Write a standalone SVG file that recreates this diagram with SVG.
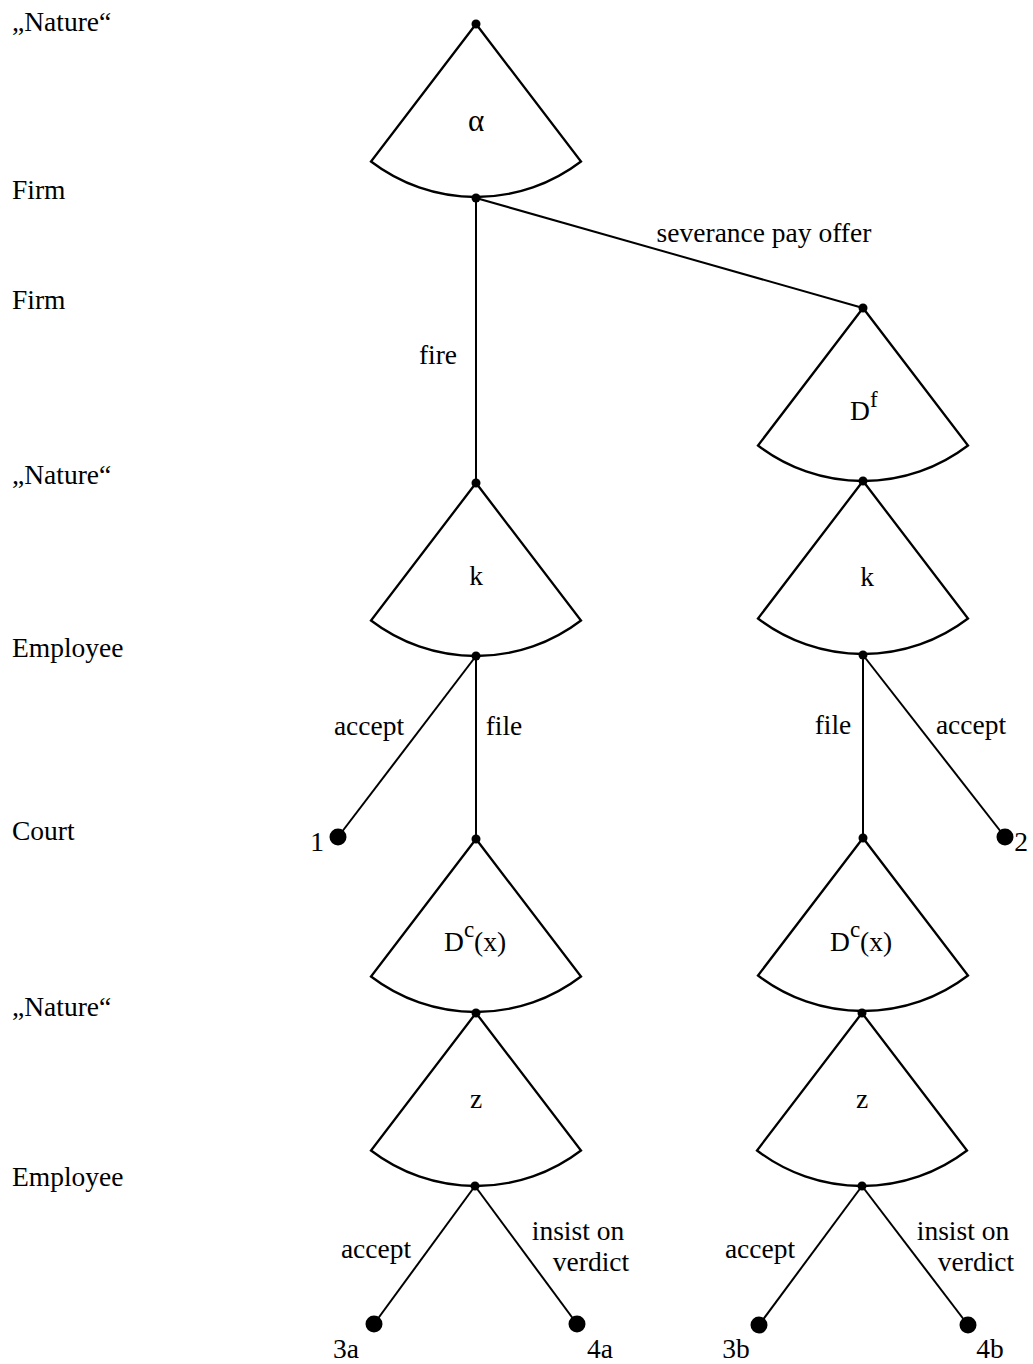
<svg xmlns="http://www.w3.org/2000/svg" width="1033" height="1364" viewBox="0 0 1033 1364">
<style>
text{font-family:"Liberation Serif","Times New Roman",serif;font-size:27.5px;fill:#000}
.fan{fill:#fff;stroke:#000;stroke-width:2.3;stroke-linejoin:miter}
.edge{stroke:#000;stroke-width:2;fill:none}
.dot{fill:#000}
.mid{text-anchor:middle}
.sup{font-size:23px}
.alpha{font-size:31px}
</style>
<defs>
<path id="fanShape" d="M0,0 L-105,137.5 A173,173 0 0 0 105,137.5 Z"/>
</defs>
<g id="player-labels">
<text x="12" y="31">„Nature“</text>
<text x="12" y="199">Firm</text>
<text x="12" y="309">Firm</text>
<text x="12" y="484">„Nature“</text>
<text x="12" y="657">Employee</text>
<text x="12" y="840">Court</text>
<text x="12" y="1016">„Nature“</text>
<text x="12" y="1186">Employee</text>
</g>
<g id="connectors">
<line class="edge" x1="476" y1="198" x2="476" y2="483"/>
<line class="edge" x1="476" y1="198" x2="863" y2="308"/>
<line class="edge" x1="476" y1="656" x2="338" y2="837"/>
<line class="edge" x1="476" y1="656" x2="476" y2="839"/>
<line class="edge" x1="863" y1="655" x2="863" y2="838"/>
<line class="edge" x1="863" y1="655" x2="1005" y2="837"/>
<line class="edge" stroke-width="2.4" x1="475" y1="1186" x2="374" y2="1324"/>
<line class="edge" stroke-width="2.4" x1="475" y1="1186" x2="577" y2="1324"/>
<line class="edge" stroke-width="2.4" x1="862" y1="1186" x2="759" y2="1325"/>
<line class="edge" stroke-width="2.4" x1="862" y1="1186" x2="968" y2="1325"/>
<text x="764" y="242" class="mid">severance pay offer</text>
<text x="438" y="364" class="mid">fire</text>
<text x="369" y="735" class="mid">accept</text>
<text x="504" y="735" class="mid">file</text>
<text x="833" y="734" class="mid">file</text>
<text x="971" y="734" class="mid">accept</text>
<text x="376" y="1258" class="mid">accept</text>
<text x="578" y="1240" class="mid">insist on</text>
<text x="591" y="1271" class="mid">verdict</text>
<text x="760" y="1258" class="mid">accept</text>
<text x="963" y="1240" class="mid">insist on</text>
<text x="976" y="1271" class="mid">verdict</text>
</g>
<g id="node-alpha">
<use href="#fanShape" class="fan" x="476" y="24"/>
<circle class="dot" cx="476" cy="24" r="4.5"/>
<circle class="dot" cx="476" cy="198" r="4.5"/>
<text x="476" y="131" class="mid alpha">α</text>
</g>
<g id="node-Df">
<use href="#fanShape" class="fan" x="863" y="308"/>
<circle class="dot" cx="863" cy="308" r="4.5"/>
<text x="850" y="420">D<tspan class="sup" dy="-13">f</tspan></text>
</g>
<g id="node-k-left">
<use href="#fanShape" class="fan" x="476" y="483"/>
<circle class="dot" cx="476" cy="483" r="4.5"/>
<circle class="dot" cx="476" cy="656" r="4.5"/>
<text x="476" y="585" class="mid">k</text>
</g>
<g id="node-k-right">
<use href="#fanShape" class="fan" x="863" y="481"/>
<circle class="dot" cx="863" cy="481" r="4.5"/>
<circle class="dot" cx="863" cy="655" r="4.5"/>
<text x="867" y="586" class="mid">k</text>
</g>
<g id="leaf-1">
<circle class="dot" cx="338" cy="837" r="8.5"/>
<text x="317" y="851" class="mid">1</text>
</g>
<g id="leaf-2">
<circle class="dot" cx="1005" cy="837" r="8.5"/>
<text x="1021" y="851" class="mid">2</text>
</g>
<g id="node-Dc-left">
<use href="#fanShape" class="fan" x="476" y="839"/>
<circle class="dot" cx="476" cy="839" r="4.5"/>
<text x="444" y="951">D<tspan class="sup" dy="-14">c</tspan><tspan dy="14">(x)</tspan></text>
</g>
<g id="node-Dc-right">
<use href="#fanShape" class="fan" x="863" y="838"/>
<circle class="dot" cx="863" cy="838" r="4.5"/>
<text x="830" y="951">D<tspan class="sup" dy="-14">c</tspan><tspan dy="14">(x)</tspan></text>
</g>
<g id="node-z-left">
<use href="#fanShape" class="fan" x="476" y="1013"/>
<circle class="dot" cx="476" cy="1013" r="4.5"/>
<circle class="dot" cx="475" cy="1186" r="4.5"/>
<text x="476" y="1108" class="mid">z</text>
</g>
<g id="node-z-right">
<use href="#fanShape" class="fan" x="862" y="1013"/>
<circle class="dot" cx="862" cy="1013" r="4.5"/>
<circle class="dot" cx="862" cy="1186" r="4.5"/>
<text x="862" y="1108" class="mid">z</text>
</g>
<g id="leaf-3a">
<circle class="dot" cx="374" cy="1324" r="8.5"/>
<text x="346" y="1358" class="mid">3a</text>
</g>
<g id="leaf-4a">
<circle class="dot" cx="577" cy="1324" r="8.5"/>
<text x="600" y="1358" class="mid">4a</text>
</g>
<g id="leaf-3b">
<circle class="dot" cx="759" cy="1325" r="8.5"/>
<text x="736" y="1358" class="mid">3b</text>
</g>
<g id="leaf-4b">
<circle class="dot" cx="968" cy="1325" r="8.5"/>
<text x="990" y="1358" class="mid">4b</text>
</g>
</svg>
